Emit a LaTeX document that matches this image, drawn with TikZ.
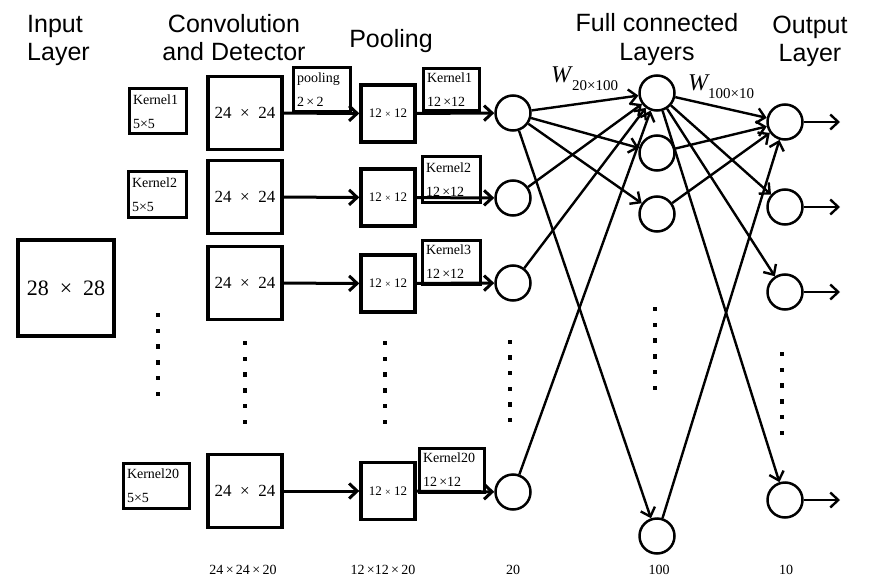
\documentclass[tikz,border=0pt]{standalone}
\usepackage{fontspec}
\setmainfont{Liberation Serif}
\newfontfamily\arialf{Liberation Sans}
\usetikzlibrary{arrows.meta}
\begin{document}
\begin{tikzpicture}[x=1pt,y=-1pt,
  title/.style={font=\arialf\fontsize{25}{25}\selectfont, inner sep=0pt, anchor=base},
  bigbox/.style={draw, line width=3.4pt, inner sep=0pt, font=\fontsize{17}{17}\selectfont},
  poolbox/.style={draw, line width=3.4pt, inner sep=0pt, minimum width=54pt, minimum height=57pt, font=\fontsize{13}{13}\selectfont},
  kbox/.style={draw, line width=3pt, inner xsep=4pt, inner ysep=0pt, align=left, font=\fontsize{14}{24}\selectfont},
  neuron/.style={draw, circle, line width=2.5pt, minimum size=35pt, inner sep=0pt},
  arr/.style={line width=2.4pt, -{Straight Barb[length=8pt,width=15pt,line width=2.4pt]}},
  thick arr/.style={line width=3pt, -{Straight Barb[length=8pt,width=15pt,line width=3pt]}},
  dotm/.style={fill=black},
  small/.style={font=\fontsize{14}{14}\selectfont, inner sep=0pt, anchor=base}
]
\useasboundingbox (0,0) rectangle (869,588);

% titles
\node[title, anchor=base west] (t1a) at (27,33) {Input};
\node[title, anchor=base west] (t1b) at (27,61) {Layer};
\node[title] (t2a) at (234,33) {Convolution};
\node[title] (t2b) at (234,61) {and Detector};
\node[title] (t3) at (391,48) {Pooling};
\node[title] (t4a) at (657,32) {Full connected};
\node[title] (t4b) at (657,61) {Layers};
\node[title] (t5a) at (810,34) {Output};
\node[title] (t5b) at (810,62) {Layer};

% input
\node[draw, line width=3.4pt, minimum width=96pt, minimum height=96pt, inner sep=0pt,
      font=\fontsize{22}{22}\selectfont] (in) at (66,288) {28\enspace×\enspace28};

% input-side kernels
\node[kbox, text width=49pt, minimum height=45pt] (k1) at (157.5,111.5) {Kernel1\\5×5};
\node[kbox, text width=50pt, minimum height=45pt] (k2) at (157,194.5) {Kernel2\\5×5};
\node[kbox, text width=58pt, minimum height=45pt] (k20) at (156,485.5) {Kernel20\\5×5};

% conv boxes
\foreach \n/\y in {c1/113, c2/197, c3/283, c20/491}{
  \node[bigbox, minimum width=74pt, minimum height=73pt] (\n) at (245,\y) {24~~×~~24};
}

% pooling box
\node[kbox, text width=49pt, minimum height=44pt] (pl) at (321.5,90) {pooling\\2\,×\,2};

% pool boxes
\foreach \n/\y in {p1/113.5, p2/197.5, p3/283.5, p20/491}{
  \node[poolbox] (\n) at (388,\y) {12 {\fontsize{10}{10}\selectfont×} 12};
}

% pool-side kernels
\node[kbox, text width=48pt, minimum height=42pt] (q1) at (451,90) {Kernel1\\12\,×12};
\node[kbox, text width=50pt, minimum height=45pt] (q2) at (451,179.5) {Kernel2\\12\,×12};
\node[kbox, text width=50pt, minimum height=44pt] (q3) at (451,262) {Kernel3\\12\,×12};
\node[kbox, text width=57pt, minimum height=44pt] (q20) at (451.5,470) {Kernel20\\12\,×12};

% neurons
\foreach \n/\y in {a1/113, a2/198, a3/283, a20/492}{
  \node[neuron] (\n) at (513,\y) {};
}
\foreach \n/\y in {b1/93, b2/153, b3/214, b100/536}{
  \node[neuron] (\n) at (657,\y) {};
}
\foreach \n/\y in {o1/122, o2/207, o3/292, o10/500}{
  \node[neuron] (\n) at (785,\y) {};
  \coordinate (e\n) at (840,\y);
}

% conv -> pool
\draw[thick arr] (c1) -- (p1);
\draw[thick arr] (c2) -- (p2);
\draw[thick arr] (c3) -- (p3);
\draw[thick arr] (c20) -- (p20);

% pool -> neurons
\draw[thick arr] (p1) -- (a1);
\draw[thick arr] (p2) -- (a2);
\draw[thick arr] (p3) -- (a3);
\draw[thick arr] (p20) -- (a20);

% layer1 -> layer2
\draw[arr] (a1) -- (b1);
\draw[arr] (a1) -- (b2);
\draw[arr] (a1) -- (b3);
\draw[arr] (a1) -- (b100);
\draw[arr] (a2) -- (b1);
\draw[arr] (a3) -- (b1);
\draw[arr] (a20) -- (b1);

% layer2 -> output
\draw[arr] (b1) -- (o1);
\draw[arr] (b1) -- (o2);
\draw[arr] (b1) -- (o3);
\draw[arr] (b1) -- (o10);
\draw[arr] (b2) -- (o1);
\draw[arr] (b3) -- (o1);
\draw[arr] (b100) -- (o1);

% outputs
\foreach \n in {o1,o2,o3,o10}{
  \draw[arr] (\n) -- (e\n);
}

% weight labels
\node[font=\fontsize{24}{24}\selectfont\itshape, inner sep=0pt, anchor=base west] (w1) at (551,83) {W};
\node[font=\fontsize{15}{15}\selectfont, inner sep=0pt, anchor=base west] (w1s) at (572,91) {20×100};
\node[font=\fontsize{24}{24}\selectfont\itshape, inner sep=0pt, anchor=base west] (w2) at (688,91) {W};
\node[font=\fontsize{15}{15}\selectfont, inner sep=0pt, anchor=base west] (w2s) at (708,99) {100×10};

% dots
\foreach \x/\y/\s in {158/315/15.8, 245/343/15.8, 385/343/15.8, 510/342/15.6, 655/309/15.8, 782/354/15.8}{
  \foreach \k in {0,...,5}{
    \fill[dotm] (\x-2.2,\y+\k*\s-2.2) rectangle (\x+2.2,\y+\k*\s+2.2);
  }
}

% bottom labels
\node[small] (n1) at (243,574) {24\,×\,24\,×\,20};
\node[small] (n2) at (383,574) {12\,×12\,×\,20};
\node[small] (n3) at (513,574) {20};
\node[small] (n4) at (659,574) {100};
\node[small] (n5) at (786,574) {10};
\end{tikzpicture}
\end{document}
